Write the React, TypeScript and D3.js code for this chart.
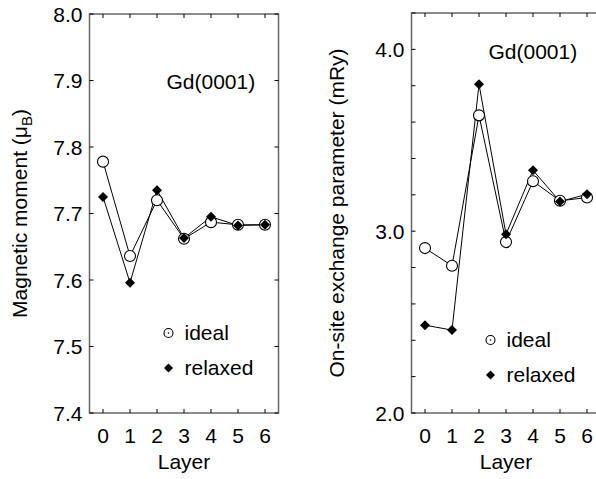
import React from "react";
import * as d3 from "d3";

// layers along x
const layers = [0, 1, 2, 3, 4, 5, 6];

// left panel: magnetic moment (muB)
const momentIdeal = [7.778, 7.636, 7.72, 7.662, 7.687, 7.683, 7.683];
const momentRelaxed = [7.725, 7.596, 7.735, 7.663, 7.695, 7.682, 7.683];
const momentTicks = [7.4, 7.5, 7.6, 7.7, 7.8, 7.9, 8.0];

// right panel: on-site exchange parameter (mRy)
const exchIdeal = [2.907, 2.81, 3.637, 2.94, 3.275, 3.167, 3.185];
const exchRelaxed = [2.483, 2.456, 3.808, 2.983, 3.335, 3.163, 3.203];
const exchTicks = [2.0, 2.2, 2.4, 2.6, 2.8, 3.0, 3.2, 3.4, 3.6, 3.8, 4.0, 4.2];
const exchLabels = [2.0, 3.0, 4.0];

const FONT = "'Liberation Sans', Arial, Helvetica, sans-serif";
const FRAME = "#666";
const FS = 21;

type PanelProps = {
  left: number;
  right: number;
  top: number;
  bottom: number;
  yDomain: [number, number];
  ticks: number[];
  labelTicks: number[];
  ideal: number[];
  relaxed: number[];
  titleY: number;
  legendY: number;
  ylabel: React.ReactNode;
  ylabelX: number;
};

const Panel = (p: PanelProps) => {
  const x = d3.scaleLinear().domain([-0.5, 6.5]).range([p.left, p.right]);
  const y = d3.scaleLinear().domain(p.yDomain).range([p.bottom, p.top]);
  const line = d3
    .line<number>()
    .x((_, i) => x(layers[i]))
    .y((d) => y(d));
  const tk = 4;
  const cx = (p.left + p.right) / 2;
  const diamond = (px: number, py: number, s = 5) =>
    `M${px},${py - s}L${px + s},${py}L${px},${py + s}L${px - s},${py}Z`;

  return (
    <g>
      {/* frame */}
      <rect
        x={p.left}
        y={p.top}
        width={p.right - p.left}
        height={p.bottom - p.top}
        fill="none"
        stroke={FRAME}
        strokeWidth={1.5}
      />
      {/* x ticks top & bottom */}
      {layers.map((l) => (
        <g key={"xt" + l} stroke="#000" strokeWidth={1}>
          <line x1={x(l)} x2={x(l)} y1={p.bottom} y2={p.bottom - tk} />
          <line x1={x(l)} x2={x(l)} y1={p.top} y2={p.top + tk} />
        </g>
      ))}
      {layers.map((l) => (
        <text
          key={"xl" + l}
          x={x(l)}
          y={p.bottom + 30}
          textAnchor="middle"
          fontSize={FS}
          fontFamily={FONT}
        >
          {l}
        </text>
      ))}
      {/* y ticks left & right */}
      {p.ticks.map((t) => (
        <g key={"yt" + t} stroke="#000" strokeWidth={1}>
          <line x1={p.left} x2={p.left + tk} y1={y(t)} y2={y(t)} />
          <line x1={p.right} x2={p.right - tk} y1={y(t)} y2={y(t)} />
        </g>
      ))}
      {p.labelTicks.map((t) => (
        <text
          key={"yl" + t}
          x={p.left - 7}
          y={y(t) + 7.5}
          textAnchor="end"
          fontSize={FS}
          fontFamily={FONT}
        >
          {t.toFixed(1)}
        </text>
      ))}
      <text x={cx} y={p.bottom + 56} textAnchor="middle" fontSize={FS} fontFamily={FONT}>
        Layer
      </text>
      <text
        transform={`translate(${p.ylabelX},${(p.top + p.bottom) / 2}) rotate(-90)`}
        textAnchor="middle"
        fontSize={FS}
        fontFamily={FONT}
      >
        {p.ylabel}
      </text>
      <text x={p.left + 77} y={p.titleY} fontSize={FS} fontFamily={FONT}>
        Gd(0001)
      </text>

      {/* lines */}
      <path d={line(p.ideal) || ""} fill="none" stroke="#000" strokeWidth={1} />
      <path d={line(p.relaxed) || ""} fill="none" stroke="#000" strokeWidth={1} />
      {p.ideal.map((v, i) => (
        <circle key={"ci" + i} cx={x(layers[i])} cy={y(v)} r={5.5} fill="#fff" stroke="#000" strokeWidth={1.1} />
      ))}
      {p.relaxed.map((v, i) => (
        <path key={"dr" + i} d={diamond(x(layers[i]), y(v))} fill="#000" />
      ))}

      {/* legend */}
      <circle cx={p.left + 79} cy={p.legendY} r={4.5} fill="#fff" stroke="#000" strokeWidth={1.1} />
      <circle cx={p.left + 79} cy={p.legendY} r={0.8} fill="#000" />
      <text x={p.left + 95} y={p.legendY + 7} fontSize={FS} fontFamily={FONT}>
        ideal
      </text>
      <path d={diamond(p.left + 79, p.legendY + 35, 4.5)} fill="#000" />
      <text x={p.left + 95} y={p.legendY + 42} fontSize={FS} fontFamily={FONT}>
        relaxed
      </text>
    </g>
  );
};

export default function App() {
  return (
    <svg
      width={596}
      height={479}
      style={{ position: "absolute", left: 0, top: 0, background: "#fff" }}
    >
      <Panel
        left={89.5}
        right={278.5}
        top={14}
        bottom={413}
        yDomain={[7.4, 8.0]}
        ticks={momentTicks}
        labelTicks={momentTicks}
        ideal={momentIdeal}
        relaxed={momentRelaxed}
        titleY={89}
        legendY={333}
        ylabelX={27}
        ylabel={
          <>
            Magnetic moment (μ
            <tspan fontSize={15} dy={5}>B</tspan>
            <tspan dy={-5}>)</tspan>
          </>
        }
      />
      <Panel
        left={411.5}
        right={600.5}
        top={13}
        bottom={413}
        yDomain={[2.0, 4.2]}
        ticks={exchTicks}
        labelTicks={exchLabels}
        ideal={exchIdeal}
        relaxed={exchRelaxed}
        titleY={59}
        legendY={340}
        ylabelX={344}
        ylabel={<>On-site exchange parameter (mRy)</>}
      />
    </svg>
  );
}
